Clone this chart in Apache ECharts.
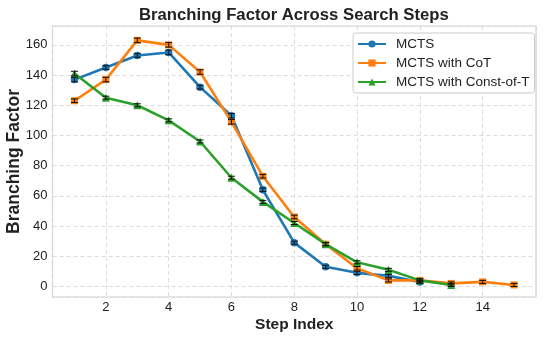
<!DOCTYPE html>
<html>
<head>
<meta charset="UTF-8">
<title>Branching Factor</title>
<script type="text/javascript" src="https://cdn.jsdelivr.net/npm/echarts@6.0.0/dist/echarts.min.js"></script>
<style>
body { margin: 0; background: #fff; }
#chart { width: 548px; height: 340px; }
</style>
</head>
<body>
<div id="chart"></div>
<script type="text/javascript">
// data
var steps = [1, 2, 3, 4, 5, 6, 7, 8, 9, 10, 11, 12, 13, 14, 15];
var mcts     = [137, 145, 153, 155, 132, 113, 64, 29, 13, 9, 7, 3];
var mctsErr  = [1.5, 1.2, 1.2, 1.5, 1.2, 1.5, 1.2, 1, 1, 1, 1, 1];
var cot      = [123, 137, 163, 160, 142, 109, 73, 46, 28, 12, 4, 4, 2, 3, 1];
var cotErr   = [1.2, 1.5, 1.5, 1.5, 1.5, 1.5, 1.2, 1.2, 1, 1.2, 1, 1, 1, 1, 1];
var const_   = [141, 125, 120, 110, 96, 72, 56, 42, 28, 16, 11, 4, 1];
var constErr = [1.5, 1, 1, 1, 1, 1, 1, 1, 1, 1, 1, 1, 1];

var names = ["MCTS", "MCTS with CoT", "MCTS with Const-of-T"];
var colors = ["#1f77b4", "#ff7f0e", "#2ca02c"];
var FONT = "Liberation Sans";

function pairs(vals) {
	return vals.map(function (v, i) { return [steps[i], v]; });
}
function errData(vals, errs) {
	return vals.map(function (v, i) { return [steps[i], v, errs[i]]; });
}

//error bars with caps
function renderErr(params, api) {
	var x = api.value(0), y = api.value(1), e = api.value(2);
	var top = api.coord([x, y + e]);
	var bot = api.coord([x, y - e]);
	var st = { stroke: "#111", lineWidth: 1 };
	return {
		type: "group",
		children: [
			{ type: "line", shape: { x1: top[0], y1: top[1], x2: bot[0], y2: bot[1] }, style: st },
			{ type: "line", shape: { x1: top[0] - 3.5, y1: top[1], x2: top[0] + 3.5, y2: top[1] }, style: st },
			{ type: "line", shape: { x1: bot[0] - 3.5, y1: bot[1], x2: bot[0] + 3.5, y2: bot[1] }, style: st }
		]
	};
}

var chart = echarts.init(document.getElementById("chart"));

var lineSeries = [
	{ vals: mcts, errs: mctsErr, symbol: "circle", size: 7.5 },
	{ vals: cot, errs: cotErr, symbol: "rect", size: 7 },
	{ vals: const_, errs: constErr, symbol: "triangle", size: 8 }
];

var series = [];
lineSeries.forEach(function (s, i) {
	series.push({
		name: names[i],
		type: "line",
		data: pairs(s.vals),
		symbol: s.symbol,
		symbolSize: s.size,
		showAllSymbol: true,
		lineStyle: { width: 2.6, color: colors[i] },
		itemStyle: { color: colors[i] },
		z: 2 + i
	});
});
lineSeries.forEach(function (s, i) {
	series.push({
		type: "custom",
		renderItem: renderErr,
		data: errData(s.vals, s.errs),
		silent: true,
		z: 10
	});
});

var option = {
	animation: false,
	textStyle: { fontFamily: FONT },
	title: {
		text: "Branching Factor Across Search Steps",
		left: 134,
		top: 2,
		textStyle: { fontFamily: FONT, fontSize: 16.7, fontWeight: "bold", color: "#222" }
	},
	legend: {
		orient: "vertical",
		left: 353,
		top: 33,
		data: names,
		itemWidth: 28,
		itemHeight: 9,
		itemGap: 5,
		padding: [4, 5, 4, 4],
		backgroundColor: "#fff",
		borderColor: "#ccc",
		borderWidth: 1,
		borderRadius: 3,
		textStyle: { fontFamily: FONT, fontSize: 13.5, color: "#222", lineHeight: 14, padding: [0, 0, 0, 5] }
	},
	grid: {
		left: 52.5, right: 12, top: 26, bottom: 43,
		outerBoundsMode: "none",
		containLabel: false,
		show: true,
		borderColor: "#cfcfcf",
		borderWidth: 1.2
	},
	xAxis: {
		type: "value",
		min: 0.3,
		max: 15.7,
		minInterval: 2,
		maxInterval: 2,
		name: "Step Index",
		nameLocation: "middle",
		nameGap: 20,
		nameMoveOverlap: false,
		nameTextStyle: { fontFamily: FONT, fontSize: 15.5, fontWeight: "bold", color: "#222" },
		axisLine: { show: false },
		axisTick: { show: false },
		axisLabel: { showMinLabel: false, showMaxLabel: false, margin: 4, fontSize: 13, color: "#222", fontFamily: FONT },
		splitLine: { show: true, lineStyle: { color: "#dcdcdc", type: [4, 3], width: 1 } }
	},
	yAxis: {
		type: "value",
		min: -7,
		max: 172.5,
		minInterval: 20,
		maxInterval: 20,
		name: "Branching Factor",
		nameLocation: "middle",
		nameGap: 29,
		nameMoveOverlap: false,
		nameTextStyle: { fontFamily: FONT, fontSize: 17.5, fontWeight: "bold", color: "#222" },
		axisLine: { show: false },
		axisTick: { show: false },
		axisLabel: { showMinLabel: false, showMaxLabel: false, margin: 5, fontSize: 13, color: "#222", fontFamily: FONT },
		splitLine: { show: true, lineStyle: { color: "#dcdcdc", type: [4, 3], width: 1 } }
	},
	series: series
};

chart.setOption(option, true);
</script>
</body>
</html>
